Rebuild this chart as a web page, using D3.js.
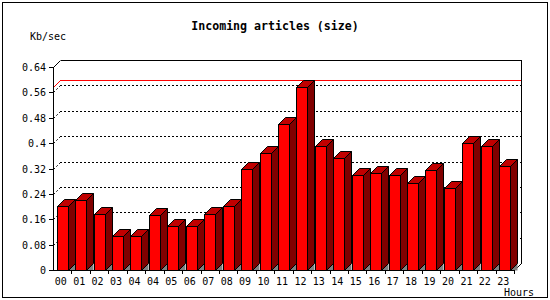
<!DOCTYPE html>
<html>
<head>
<meta charset="utf-8">
<script src="https://cdn.jsdelivr.net/npm/d3@7"></script>
<style>
  body { margin: 0; background: #fff; }
  svg { display: block; }
  text { font-family: "DejaVu Sans Mono", monospace; font-size: 10px; fill: #000; }
</style>
</head>
<body>
<svg id="chart" width="550" height="300"></svg>
<script>
'use strict'

// hours (the 04 shows up twice in the source)
const hours = ['00','01','02','03','04','04','05','06','07','08','09','10','11','12',
	'13','14','15','16','17','18','19','20','21','22','23']
const kbsec = [0.202, 0.221, 0.177, 0.107, 0.107, 0.173, 0.139, 0.139, 0.177, 0.202,
	0.318, 0.369, 0.460, 0.577, 0.391, 0.353, 0.299, 0.306, 0.299, 0.274,
	0.315, 0.259, 0.400, 0.391, 0.328]
const yTicks = [0, 0.08, 0.16, 0.24, 0.32, 0.4, 0.48, 0.56, 0.64]
const yTickLabels = ['0', '0.08', '0.16', '0.24', '0.32', '0.4', '0.48', '0.56', '0.64']

const svg = d3.select('#chart')
const W = 550, H = 300
const pLeft = 53, pRight = 514, pBottom = 270, pTop = 67
const depth = 7

let x = d3.scaleBand()
	.domain(d3.range(hours.length))
	.range([pLeft, pRight])
	.paddingInner(0.4)
	.paddingOuter(0.2)

let y = d3.scaleLinear()
	.domain([0, 0.64])
	.range([pBottom, pTop])

svg.append('rect')
	.attr('width', W).attr('height', H).attr('fill', '#fff')

// outer frame
svg.append('rect')
	.attr('x', 2.5).attr('y', 2.5)
	.attr('width', 545).attr('height', 295)
	.attr('fill', 'none').attr('stroke', '#000')

svg.append('text')
	.attr('x', 275).attr('y', 30)
	.attr('text-anchor', 'middle')
	.style('font-size', '11.6px').style('font-weight', 'bold')
	.text('Incoming articles (size)')

svg.append('text')
	.attr('x', 30).attr('y', 40)
	.text('Kb/sec')

let g = svg.append('g').attr('shape-rendering', 'crispEdges')

// back wall gridlines (dotted) and the side-wall slants
let grid = yTicks.filter(function(d){ return d > 0 && d < 0.64 })
g.selectAll('.grid').data(grid).enter().append('line')
	.attr('class', 'grid')
	.attr('x1', pLeft + depth).attr('x2', pRight + depth)
	.attr('y1', function(d){ return Math.round(y(d)) - depth + 0.5 })
	.attr('y2', function(d){ return Math.round(y(d)) - depth + 0.5 })
	.attr('stroke', '#000').attr('stroke-dasharray', '2,2')
svg.selectAll('.slant').data(grid).enter().append('line')
	.attr('class', 'slant')
	.attr('x1', pLeft + 0.5).attr('x2', pLeft + depth + 0.5)
	.attr('y1', function(d){ return Math.round(y(d)) + 0.5 })
	.attr('y2', function(d){ return Math.round(y(d)) - depth + 0.5 })
	.attr('stroke', '#000').attr('stroke-dasharray', '2,2')

// max line
let maxV = d3.max(kbsec)
let my = Math.round(y(maxV))
g.append('line')
	.attr('x1', pLeft + depth).attr('x2', pRight + depth)
	.attr('y1', my - depth + 0.5).attr('y2', my - depth + 0.5)
	.attr('stroke', '#f00')
svg.append('line')
	.attr('x1', pLeft + 0.5).attr('x2', pLeft + depth + 0.5)
	.attr('y1', my + 0.5).attr('y2', my - depth + 0.5)
	.attr('stroke', '#f00')

// back wall box
g.append('polyline')
	.attr('points', [[pLeft + depth + 0.5, pTop - depth + 0.5], [pRight + depth + 0.5, pTop - depth + 0.5],
		[pRight + depth + 0.5, pBottom - depth + 0.5]].join(' '))
	.attr('fill', 'none').attr('stroke', '#000')
svg.append('line')
	.attr('x1', pLeft + 0.5).attr('y1', pTop + 0.5)
	.attr('x2', pLeft + depth + 0.5).attr('y2', pTop - depth + 0.5)
	.attr('stroke', '#000')
svg.append('line')
	.attr('x1', pRight + 0.5).attr('y1', pBottom + 0.5)
	.attr('x2', pRight + depth + 0.5).attr('y2', pBottom - depth + 0.5)
	.attr('stroke', '#000')

// bars
let bw = Math.round(x.bandwidth())
let bars = svg.append('g').selectAll('.bar').data(kbsec).enter().append('g')
	.attr('class', 'bar')

function bx(d, i){ return Math.round(x(i)) + 0.5 }
function by(d){ return Math.round(y(d)) + 0.5 }
let yb = pBottom + 0.5

bars.append('polygon')
	.attr('points', function(d, i){
		let x0 = bx(d, i) + bw
		return [[x0, yb], [x0 + depth, yb - depth], [x0 + depth, yb]].join(' ')
	})
	.attr('fill', '#808080')
bars.append('polygon')
	.attr('points', function(d, i){
		let x0 = bx(d, i) + bw, y0 = by(d)
		return [[x0, y0], [x0 + depth, y0 - depth], [x0 + depth, yb - depth], [x0, yb]].join(' ')
	})
	.attr('fill', '#800000').attr('stroke', '#000')
bars.append('polygon')
	.attr('points', function(d, i){
		let x0 = bx(d, i), y0 = by(d)
		return [[x0, y0], [x0 + depth, y0 - depth], [x0 + bw + depth, y0 - depth], [x0 + bw, y0]].join(' ')
	})
	.attr('fill', '#c00000').attr('stroke', '#000')
bars.append('rect')
	.attr('x', bx)
	.attr('y', by)
	.attr('width', bw)
	.attr('height', function(d){ return yb - by(d) })
	.attr('fill', '#f00').attr('stroke', '#000')

// front axes
let ax = svg.append('g').attr('shape-rendering', 'crispEdges')
ax.append('line')
	.attr('x1', pLeft + 0.5).attr('x2', pLeft + 0.5)
	.attr('y1', pTop).attr('y2', pBottom + 1)
	.attr('stroke', '#000')
ax.append('line')
	.attr('x1', pLeft).attr('x2', pRight + 1)
	.attr('y1', pBottom + 0.5).attr('y2', pBottom + 0.5)
	.attr('stroke', '#000')

ax.selectAll('.ytick').data(yTicks).enter().append('line')
	.attr('x1', pLeft - 4).attr('x2', pLeft)
	.attr('y1', function(d){ return Math.round(y(d)) + 0.5 })
	.attr('y2', function(d){ return Math.round(y(d)) + 0.5 })
	.attr('stroke', '#000')
svg.selectAll('.ylab').data(yTicks).enter().append('text')
	.attr('x', 46)
	.attr('y', function(d){ return Math.round(y(d)) + 4 })
	.attr('text-anchor', 'end')
	.text(function(d, i){ return yTickLabels[i] })

let step = x.step()
ax.selectAll('.xtick').data(d3.range(1, hours.length + 1)).enter().append('line')
	.attr('x1', function(k){ return Math.round(pLeft + k * step) + 0.5 })
	.attr('x2', function(k){ return Math.round(pLeft + k * step) + 0.5 })
	.attr('y1', pBottom).attr('y2', pBottom + 4)
	.attr('stroke', '#000')
svg.selectAll('.xlab').data(hours).enter().append('text')
	.attr('x', function(d, i){ return x(i) + x.bandwidth() / 2 - 1.5 })
	.attr('y', 285)
	.attr('text-anchor', 'middle')
	.text(function(d){ return d })

svg.append('text')
	.attr('x', 534).attr('y', 296)
	.attr('text-anchor', 'end')
	.text('Hours')
</script>
</body>
</html>
